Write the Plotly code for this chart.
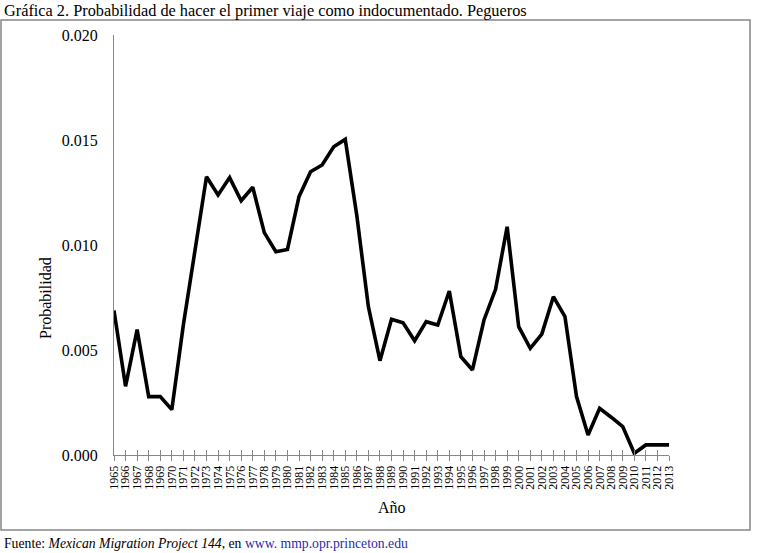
from plotly import graph_objs as go

years = list(range(1965, 2014))
probabilidad = [
    0.00688, 0.00327, 0.00597, 0.00278, 0.00278, 0.00216, 0.0062, 0.0098,
    0.01325, 0.01238, 0.01321, 0.01211, 0.01275, 0.01059, 0.00968, 0.00979,
    0.0123, 0.01349, 0.01381, 0.01468, 0.01503, 0.0114, 0.00706, 0.00449,
    0.00646, 0.0063, 0.00544, 0.00635, 0.00619, 0.00781, 0.00468, 0.00405,
    0.00643, 0.00789, 0.01087, 0.00611, 0.00508, 0.00576, 0.00754, 0.00659,
    0.00278, 0.00095, 0.00222, 0.0018, 0.00135, 0.00008, 0.00048, 0.00048,
    0.00048,
]
y_ticks = [0.0, 0.005, 0.010, 0.015, 0.020]

titulo = "Gráfica 2. Probabilidad de hacer el primer viaje como indocumentado. Pegueros"
fuente = ("Fuente: <i>Mexican Migration Project 144</i>, en "
          "<span style='color:#2a2aa8'>www. mmp.opr.princeton.edu</span>")

W, H = 761, 553
# plot area in pixels
L, R, T, B = 114, 669, 35, 455
SERIF = "Liberation Serif, Times New Roman, serif"


def px_x(p):
    return (p - L) / (R - L)


def px_y(p):
    return (B - p) / (B - T)


fig = go.Figure()
fig.add_trace(go.Scatter(x=years, y=probabilidad, mode='lines', showlegend=False,
                         line=dict(color='black', width=3.6)))
# helper trace so that the second x axis (inner ticks) gets drawn
fig.add_trace(go.Scatter(x=years, y=probabilidad, mode='lines', showlegend=False,
                         xaxis='x2', hoverinfo='skip', line=dict(color='rgba(0,0,0,0)')))

axis_x = dict(range=[1965, 2013], tickvals=years, ticktext=[str(y) for y in years],
              showgrid=False, zeroline=False, showline=True, linecolor='#868686',
              linewidth=1, tickcolor='#868686', ticklen=5)
fig.update_layout(
    width=W, height=H,
    margin=dict(l=L, r=W - R, t=T, b=H - B),
    paper_bgcolor='white', plot_bgcolor='white',
    font=dict(family=SERIF, color='black'),
    xaxis=dict(axis_x, ticks='outside', tickangle=-90,
               tickfont=dict(size=12, family=SERIF, color='black')),
    xaxis2=dict(axis_x, ticks='inside', overlaying='x', showticklabels=False,
                showline=False),
    yaxis=dict(range=[0, 0.02], tickvals=y_ticks, tickformat='.3f', ticks='',
               showgrid=False, zeroline=False, showline=True, linecolor='#868686',
               linewidth=1, ticklabelstandoff=12,
               tickfont=dict(size=16, family=SERIF, color='black')),
)

# outer gray frame
fig.add_shape(type='rect', xref='paper', yref='paper', x0=px_x(1), x1=px_x(750),
              y0=px_y(530), y1=px_y(20), line=dict(color='#868686', width=1.5), layer='below')

fig.add_annotation(xref='paper', yref='paper', x=px_x(2), y=px_y(11), text=titulo,
                   showarrow=False, xanchor='left', yanchor='middle',
                   font=dict(size=16.3, family=SERIF, color='black'))
fig.add_annotation(xref='paper', yref='paper', x=px_x(45), y=px_y(298), text="Probabilidad",
                   showarrow=False, textangle=-90, xanchor='center', yanchor='middle',
                   font=dict(size=16, family=SERIF, color='black'))
fig.add_annotation(xref='paper', yref='paper', x=px_x(392), y=px_y(507), text="Año",
                   showarrow=False, xanchor='center', yanchor='middle',
                   font=dict(size=16, family=SERIF, color='black'))
fig.add_annotation(xref='paper', yref='paper', x=px_x(2), y=px_y(543), text=fuente,
                   showarrow=False, xanchor='left', yanchor='middle',
                   font=dict(size=13.7, family=SERIF, color='black'))

# drop the default page margin so the figure fills the window exactly
fig.write_html("out.html", config={'displayModeBar': False},
               post_script="document.body.style.margin='0';"
               "document.body.style.overflow='hidden';")
